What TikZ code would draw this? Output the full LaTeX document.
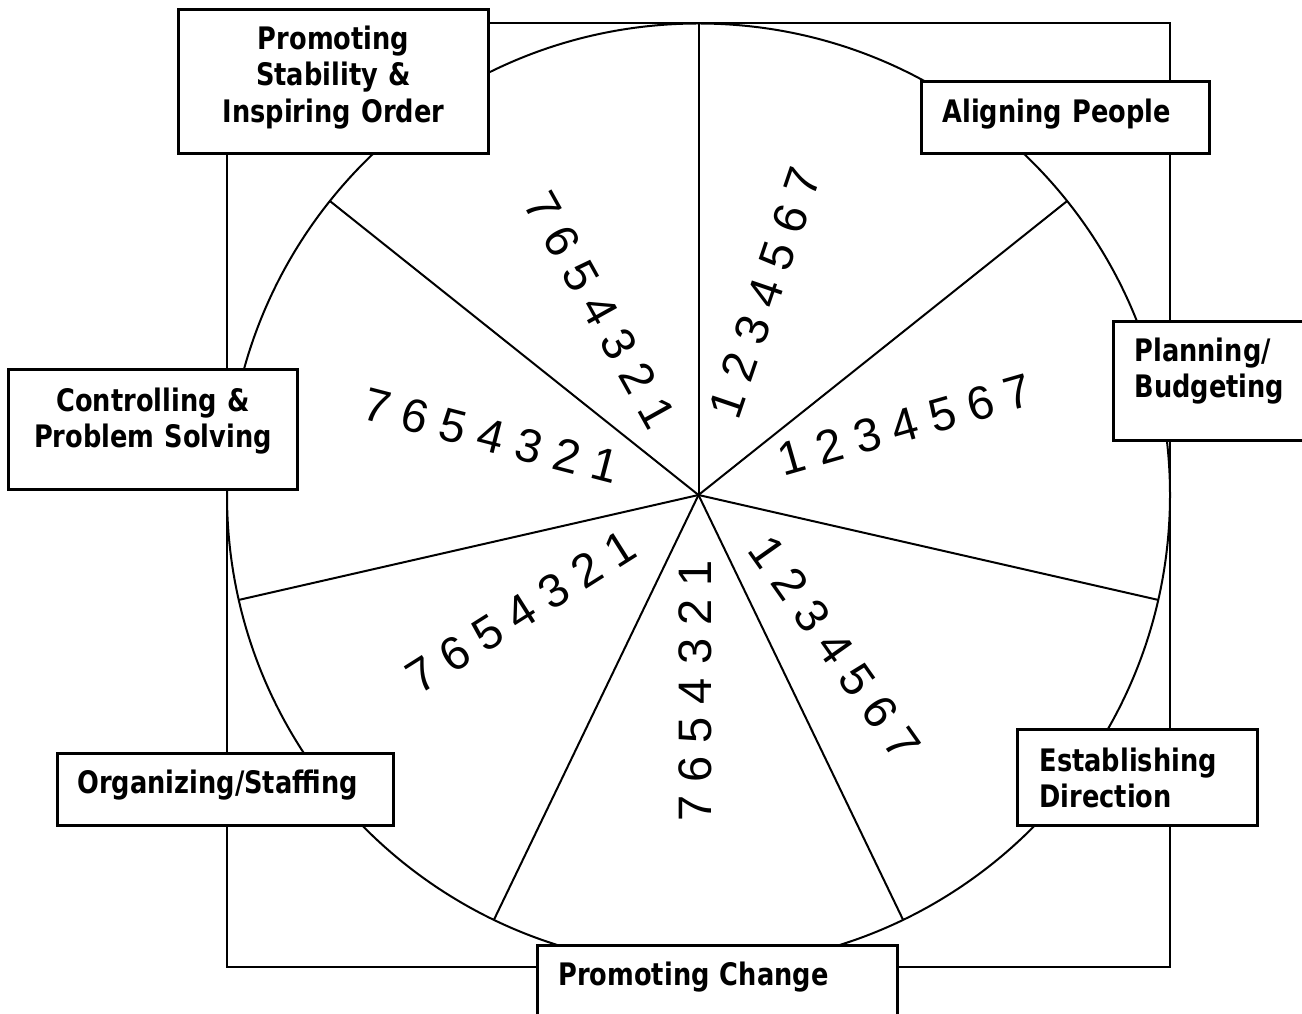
\documentclass[tikz,border=0pt]{standalone}
\usepackage{fontspec}
\setmainfont{Liberation Sans}
\newfontfamily\labelfont[FakeStretch=0.92]{DejaVu Sans Condensed}

\begin{document}
\begin{tikzpicture}[x=1pt,y=1pt,
        ratings/.style={inner sep=0pt,font=\fontsize{47}{47}\selectfont},
        labelbox/.style={draw,line width=3pt,fill=white,anchor=north west,inner ysep=0pt,
            font=\labelfont\bfseries\fontsize{31}{36.5}\selectfont}]
    \useasboundingbox (0,0) rectangle (1302,1013);
    % frame and wheel
    \draw[line width=2pt] (227,46) rectangle (1170,990);
    \coordinate (O) at (698.5,518);
    \draw[line width=2pt] (O) circle (471.5);
    \foreach \k in {0,...,6}
        \draw[line width=2pt] (O) -- ++({90-\k*360/7}:471.5);
    % rating scale in every slice
    \node[ratings,rotate=71.2] (aligningscale) at (765,720) {1 2 3 4 5 6 7};
    \node[ratings,rotate=16] (planningscale) at (905,588) {1 2 3 4 5 6 7};
    \node[ratings,rotate=-54.8] (establishingscale) at (835,365) {1 2 3 4 5 6 7};
    \node[ratings,rotate=90] (changescale) at (695,322) {7 6 5 4 3 2 1};
    \node[ratings,rotate=32.3] (organizingscale) at (521,401) {7 6 5 4 3 2 1};
    \node[ratings,rotate=-14.5] (controllingscale) at (491,577) {7 6 5 4 3 2 1};
    \node[ratings,rotate=-60.9] (stabilityscale) at (600,703) {7 6 5 4 3 2 1};
    % labels
    \node[labelbox,text width=310pt,inner xsep=0pt,align=center,text height=40pt,text depth=104pt]
        (stability) at (177,1005) {Promoting\\Stability \&\\Inspiring Order};
    \node[labelbox,text width=246pt,inner xsep=21pt,align=left,text height=41pt,text depth=31pt]
        (aligning) at (920,933) {Aligning People};
    \node[labelbox,text width=158pt,inner xsep=21pt,align=left,text height=40pt,text depth=79pt]
        (planning) at (1112,693) {Planning/\\Budgeting};
    \node[labelbox,text width=289pt,inner xsep=0pt,align=center,text height=42pt,text depth=78pt]
        (controlling) at (7,645) {Controlling \&\\Problem Solving};
    \node[labelbox,text width=196pt,inner xsep=22pt,align=left,text height=42pt,text depth=54pt]
        (establishing) at (1016,285) {Establishing\\Direction};
    \node[labelbox,text width=296pt,inner xsep=20pt,align=left,text height=40pt,text depth=32pt]
        (organizing) at (56,261) {Organizing/Staffing};
    \node[labelbox,text width=318pt,inner xsep=21pt,align=left,text height=40pt,text depth=39pt]
        (change) at (536,69) {Promoting Change};
\end{tikzpicture}
\end{document}
